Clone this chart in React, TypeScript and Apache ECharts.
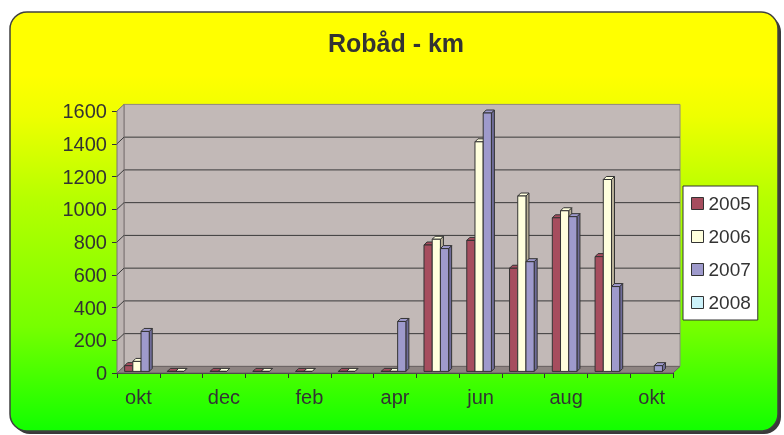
import React, { useEffect, useRef } from 'react';
import * as echarts from 'echarts';

const categories = ['okt', 'nov', 'dec', 'jan', 'feb', 'mar', 'apr', 'maj', 'jun', 'jul', 'aug', 'sep', 'okt'];
const seriesNames = ['2005', '2006', '2007', '2008'];
const v2005: (number | null)[] = [35, 0, 0, 0, 0, 0, 0, 772, 800, 630, 938, 701, null];
const v2006: (number | null)[] = [61, 0, 0, 0, 0, 0, 0, 807, 1402, 1071, 981, 1172, null];
const v2007: (number | null)[] = [244, null, null, null, null, null, 305, 750, 1578, 670, 945, 518, 35];
const v2008: (number | null)[] = [null, null, null, null, null, null, null, null, null, null, null, null, null];
const yTicks = [0, 200, 400, 600, 800, 1000, 1200, 1400, 1600];

const seriesValues = [v2005, v2006, v2007, v2008];
const frontColors = ['#A64D5E', '#FFFFDD', '#9E9ACC', '#CCF2FA'];
const sideColors = ['#7A3744', '#B8B098', '#6F6C99', '#9ABCC4'];

const FONT = "'Liberation Sans', Arial, sans-serif";
const WX = 7;
const WY = 6.6;
const BX = 3;
const BY = 3;

export default function App() {
  const ref = useRef<HTMLDivElement>(null);
  useEffect(() => {
    if (!ref.current) return;
    const chart = echarts.init(ref.current, null, { renderer: 'svg' });
    const yMax = yTicks[yTicks.length - 1];

    const wallSeries: any = {
      type: 'custom',
      name: 'walls',
      z: 1,
      silent: true,
      data: [[0, 0]],
      renderItem: (params: any, api: any) => {
        const p0 = api.coord([0, 0]);
        const p1 = api.coord([categories.length - 1, yMax]);
        const band = api.size([1, 0])[0];
        const L = p0[0] - band / 2;
        const R = p1[0] + band / 2;
        const B = p0[1];
        const T = p1[1];
        const children: any[] = [];
        children.push({
          type: 'rect',
          shape: { x: L + WX, y: T - WY, width: R - L, height: B - T },
          style: { fill: '#C2B9B7', stroke: '#8E8686', lineWidth: 1 },
        });
        yTicks.forEach((v) => {
          if (v === 0 || v === yMax) return;
          const y = api.coord([0, v])[1];
          children.push({
            type: 'line',
            shape: { x1: L + WX, y1: y - WY, x2: R + WX, y2: y - WY },
            style: { stroke: '#3A3A3A', lineWidth: 1 },
          });
        });
        children.push({
          type: 'polygon',
          shape: { points: [[L, T], [L + WX, T - WY], [L + WX, B - WY], [L, B]] },
          style: { fill: '#BDB4B2', stroke: '#7A7272', lineWidth: 1 },
        });
        yTicks.forEach((v) => {
          if (v === 0 || v === yMax) return;
          const y = api.coord([0, v])[1];
          children.push({
            type: 'line',
            shape: { x1: L, y1: y, x2: L + WX, y2: y - WY },
            style: { stroke: '#3A3A3A', lineWidth: 1 },
          });
        });
        children.push({
          type: 'polygon',
          shape: { points: [[L, B], [L + WX, B - WY], [R + WX, B - WY], [R, B]] },
          style: { fill: '#8E8482', stroke: '#6A6262', lineWidth: 1 },
        });
        return { type: 'group', children };
      },
    };

    const makeBarSeries = (s: number): any => ({
      type: 'custom',
      name: seriesNames[s],
      z: 2,
      itemStyle: { color: frontColors[s], borderColor: '#333', borderWidth: 1 },
      data: seriesValues[s].map((v, i) => [i, v == null ? '-' : v]),
      renderItem: (params: any, api: any) => {
        const v = api.value(1);
        if (v == null || isNaN(v)) return null;
        const cat = api.value(0);
        const base = api.coord([cat, 0]);
        const top = api.coord([cat, v]);
        const band = api.size([1, 0])[0];
        const w = band * 0.192;
        const x0 = base[0] - band / 2 + band * 0.178 + s * w;
        const yb = base[1] - 1.6;
        const yt = top[1] - 1.6;
        const stroke = { stroke: '#333', lineWidth: 1 };
        return {
          type: 'group',
          children: [
            {
              type: 'polygon',
              shape: { points: [[x0 + w, yt], [x0 + w + BX, yt - BY], [x0 + w + BX, yb - BY], [x0 + w, yb]] },
              style: { fill: sideColors[s], ...stroke },
            },
            {
              type: 'polygon',
              shape: { points: [[x0, yt], [x0 + BX, yt - BY], [x0 + w + BX, yt - BY], [x0 + w, yt]] },
              style: { fill: frontColors[s], ...stroke },
            },
            {
              type: 'rect',
              shape: { x: x0, y: yt, width: w, height: Math.max(0, yb - yt) },
              style: { fill: frontColors[s], ...stroke },
            },
          ],
        };
      },
    });

    chart.setOption({
      animation: false,
      graphic: [
        {
          type: 'rect',
          z: -10,
          silent: true,
          shape: { x: 13, y: 15, width: 768, height: 419, r: 17 },
          style: { fill: '#3A3A3A' },
        },
        {
          type: 'rect',
          z: -9,
          silent: true,
          shape: { x: 10, y: 12, width: 768, height: 419, r: 17 },
          style: {
            fill: {
              type: 'linear', x: 0, y: 0, x2: 0, y2: 1,
              colorStops: [
                { offset: 0, color: '#FFFF00' },
                { offset: 0.15, color: '#FFFF00' },
                { offset: 0.25, color: '#EEFF00' },
                { offset: 0.45, color: '#B5FF00' },
                { offset: 0.75, color: '#77FF00' },
                { offset: 1, color: '#11FF00' },
              ],
            },
            stroke: '#404040',
            lineWidth: 1.5,
          },
        },
        {
          type: 'text',
          z: 5,
          x: 396,
          y: 30,
          style: {
            text: 'Robåd - km',
            font: `bold 25px ${FONT}`,
            fill: '#333333',
            textAlign: 'center',
            textVerticalAlign: 'top',
          },
        },
      ],
      legend: {
        data: seriesNames,
        orient: 'vertical',
        left: 683,
        top: 186,
        selectedMode: false,
        backgroundColor: '#FFFFFF',
        borderColor: '#333333',
        borderWidth: 1,
        borderRadius: 0,
        padding: [8, 7, 8, 8],
        itemGap: 14,
        itemWidth: 12,
        itemHeight: 12,
        icon: 'rect',
        itemStyle: { borderColor: '#333', borderWidth: 1 },
        textStyle: { fontSize: 19, color: '#333333', fontFamily: FONT },
      },
      grid: { left: 117, right: 111, top: 111, bottom: 62, containLabel: false },
      xAxis: {
        type: 'category',
        data: categories,
        boundaryGap: true,
        axisLine: { show: true, lineStyle: { color: '#333', width: 1 } },
        axisTick: { show: true, interval: 0, length: 5, lineStyle: { color: '#333' } },
        axisLabel: { interval: 1, color: '#333', fontSize: 20, fontFamily: FONT, margin: 14 },
        splitLine: { show: false },
      },
      yAxis: {
        type: 'value',
        min: 0,
        max: yMax,
        interval: 200,
        axisLine: { show: true, lineStyle: { color: '#333', width: 1 } },
        axisTick: { show: true, length: 5, lineStyle: { color: '#333' } },
        axisLabel: {
          color: '#333',
          fontSize: 20,
          fontFamily: FONT,
          margin: 10,
          formatter: (v: number) => String(v),
        },
        splitLine: { show: false },
      },
      series: [wallSeries, ...seriesNames.map((_, s) => makeBarSeries(s))],
    });
    return () => chart.dispose();
  }, []);
  return (
    <div
      ref={ref}
      style={{ position: 'fixed', left: 0, top: 0, width: 784, height: 435 }}
    />
  );
}
